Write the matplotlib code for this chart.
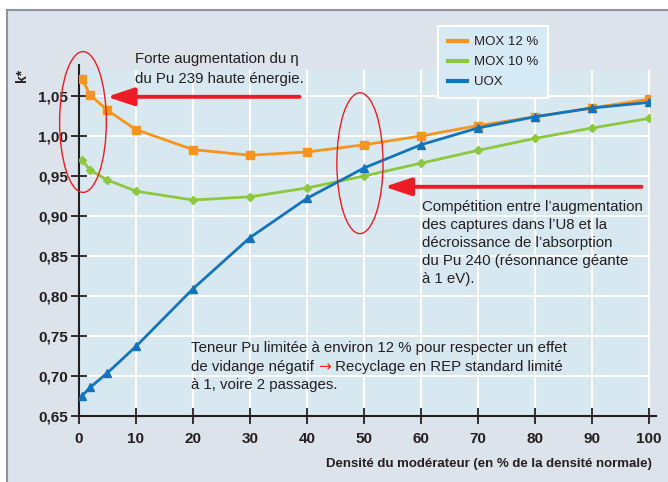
import numpy as np
import matplotlib.pyplot as plt
from matplotlib.patches import Ellipse, Rectangle
from matplotlib.lines import Line2D

plt.rcParams['font.family'] = ['Liberation Sans', 'DejaVu Sans']

# data
density = [0.5, 2, 5, 10, 20, 30, 40, 50, 60, 70, 80, 90, 100]
mox12 = [1.071, 1.051, 1.032, 1.008, 0.983, 0.976, 0.980, 0.989, 1.000, 1.013, 1.024, 1.035, 1.046]
mox10 = [0.970, 0.957, 0.945, 0.931, 0.920, 0.924, 0.935, 0.950, 0.966, 0.982, 0.997, 1.010, 1.022]
uox = [0.675, 0.686, 0.704, 0.737, 0.809, 0.873, 0.922, 0.960, 0.989, 1.010, 1.024, 1.035, 1.042]
series_names = ['MOX 12 %', 'MOX 10 %', 'UOX']
x_ticks = [0, 10, 20, 30, 40, 50, 60, 70, 80, 90, 100]
y_ticks = [0.65, 0.70, 0.75, 0.80, 0.85, 0.90, 0.95, 1.00, 1.05]

note1 = ['Forte augmentation du η', 'du Pu 239 haute énergie.']
note2 = ['Compétition entre l’augmentation', 'des captures dans l’U8 et la',
         'décroissance de l’absorption', 'du Pu 240 (résonnance géante',
         'à 1 eV).']

ORANGE = '#f7941d'
GREEN = '#8dc63f'
BLUE = '#1374bb'
RED = '#ed1c24'
DARK = '#231f20'
BG = '#dce3ea'
PLOTBG = '#d8e8f1'

W, H = 668, 482


def fpx(x, y):
    # pixel -> figure fraction
    return x / W, 1 - y / H


fig = plt.figure(figsize=(6.68, 4.82), dpi=100, facecolor='white')
fig.patches.append(Rectangle(fpx(7, 500), (700 - 7) / W, (500 - 10) / H,
                             transform=fig.transFigure, facecolor=BG,
                             edgecolor='#8e969c', lw=1.5, zorder=-5))

ax = fig.add_axes([79 / W, 1 - 416 / H, (650 - 79) / W, (416 - 70) / H])
ax.set_zorder(1)
ax.set_facecolor(PLOTBG)
ax.set_xlim(0, 100.2)
ax.set_ylim(0.65, 1.0825)

ax.grid(True, color='white', lw=1.5)
ax.set_axisbelow(True)
for s in ['top', 'right']:
    ax.spines[s].set_visible(False)
for s in ['left', 'bottom']:
    ax.spines[s].set_color(DARK)
    ax.spines[s].set_linewidth(1.5)
# axis lines run a little past the plot area in the original
ax.spines['left'].set_bounds(0.65, 1.089)
ax.spines['bottom'].set_bounds(0, 101.2)

ax.set_xticks(x_ticks)
ax.set_yticks(y_ticks)
ax.set_yticklabels([('%.2f' % v).replace('.', ',') for v in y_ticks])
ax.tick_params(axis='x', direction='inout', length=11, width=1.3, color=DARK,
               labelsize=11, pad=6, labelcolor=DARK)
ax.tick_params(axis='y', direction='inout', length=12, width=1.3, color=DARK,
               labelsize=11, pad=2, labelcolor=DARK)
for lab in ax.get_xticklabels() + ax.get_yticklabels():
    lab.set_fontweight('bold')
ax.spines['left'].set_clip_on(False)
ax.spines['bottom'].set_clip_on(False)

ax.plot(density, mox12, color=ORANGE, lw=2, marker='s', ms=5.6, zorder=4)
ax.plot(density, mox10, color=GREEN, lw=2, marker='D', ms=4.3, zorder=3)
ax.plot(density, uox, color=BLUE, lw=2, marker='^', ms=5.8, zorder=5)

# red ellipses
ax.add_patch(Ellipse((0.7, 1.0175), 8.2, 0.176, fill=False, ec=RED, lw=1,
                     clip_on=False, zorder=6))
ax.add_patch(Ellipse((49.3, 0.966), 8.1, 0.176, fill=False, ec=RED, lw=1,
                     clip_on=False, zorder=6))

# red arrows
arrow_kw = dict(arrowstyle='-|>,head_length=1.35,head_width=0.45', color=RED,
                lw=2.8, mutation_scale=12, shrinkA=0, shrinkB=0)
ax.annotate('', xy=(4.9, 1.049), xytext=(38.7, 1.049), arrowprops=arrow_kw,
            zorder=7)
ax.annotate('', xy=(53.6, 0.9365), xytext=(98.7, 0.9365), arrowprops=arrow_kw,
            zorder=7)

# notes, one line at a time
txt = dict(fontsize=10.8, color=DARK, va='baseline', ha='left', zorder=8)
for i, line in enumerate(note1):
    fig.text(*fpx(135, 63.5 + 19.4 * i), line, **txt)
for i, line in enumerate(note2):
    fig.text(*fpx(422, 211 + 18.1 * i), line, **txt)

fig.text(*fpx(191, 352), 'Teneur Pu limitée à environ 12 % pour respecter un effet', **txt)
t2 = fig.text(*fpx(191, 371), 'de vidange négatif ', **txt)
t3 = fig.text(0, 0, '→', fontsize=11, color=RED, va='baseline', ha='left',
              zorder=8, family='DejaVu Sans')
t4 = fig.text(0, 0, ' Recyclage en REP standard limité', **txt)
fig.text(*fpx(191, 389.5), 'à 1, voire 2 passages.', **txt)

# legend
handles = [Line2D([], [], color=c, lw=3) for c in [ORANGE, GREEN, BLUE]]
leg = fig.legend(handles, series_names, loc='upper left',
                 bbox_to_anchor=fpx(438, 26), borderaxespad=0,
                 fontsize=9.5, handlelength=1.45, handletextpad=0.5,
                 labelspacing=0.6, borderpad=0.75, fancybox=False,
                 framealpha=1, facecolor='#d6eaf6', edgecolor='white')
leg.set_zorder(10)
leg.get_frame().set_linewidth(1.5)
for t in leg.get_texts():
    t.set_color(DARK)

# axis labels
fig.text(*fpx(652, 467), 'Densité du modérateur (en % de la densité normale)',
         fontsize=9.5, fontweight='bold', color=DARK, ha='right', va='baseline')
fig.text(*fpx(22, 75), 'k*', fontsize=10, fontweight='bold', color=DARK,
         rotation=90, ha='center', va='center')

# place the red arrow and the rest of the line after measuring the text
fig.canvas.draw()
r = fig.canvas.get_renderer()
x_end = t2.get_window_extent(r).x1
t3.set_position((x_end / W, 1 - 371 / H))
x_end = t3.get_window_extent(r).x1
t4.set_position((x_end / W, 1 - 371 / H))

fig.savefig('out.png', dpi=100, facecolor=fig.get_facecolor())
